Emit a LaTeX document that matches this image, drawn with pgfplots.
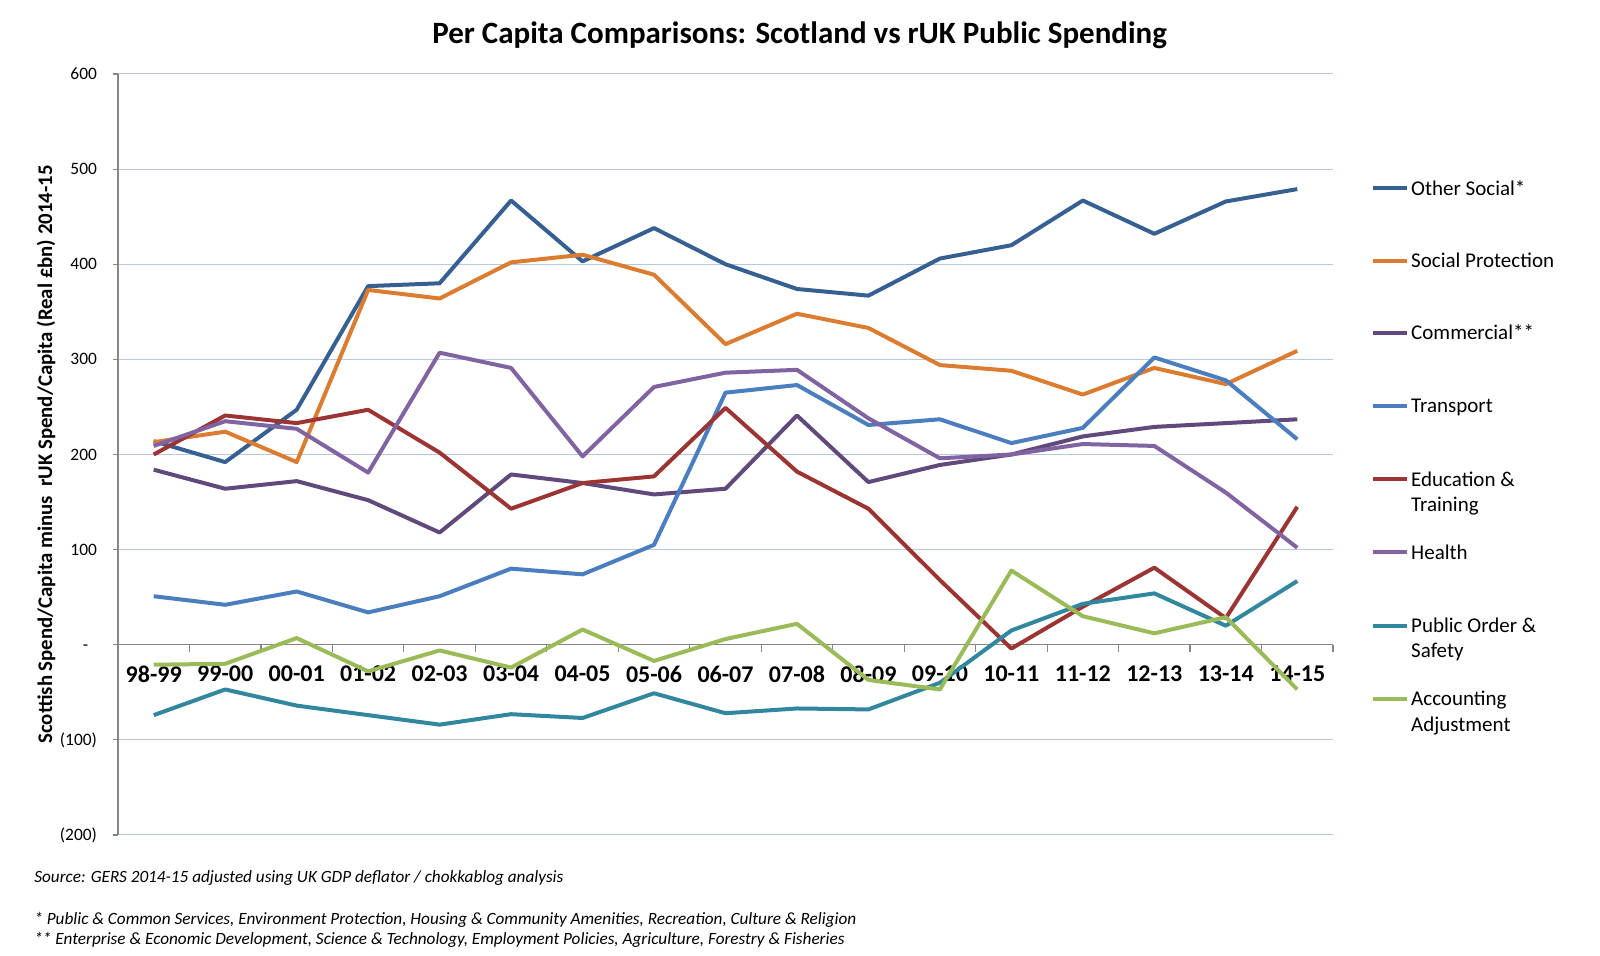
\documentclass[border=0pt]{standalone}
\usepackage{pgfplots}
\pgfplotsset{compat=1.18}
\usepackage{fontspec}
\setmainfont{Carlito}
\definecolor{cOS}{RGB}{55,96,146}
\definecolor{cSP}{RGB}{220,124,48}
\definecolor{cCO}{RGB}{96,74,123}
\definecolor{cTR}{RGB}{74,126,190}
\definecolor{cED}{RGB}{155,52,50}
\definecolor{cHE}{RGB}{128,100,162}
\definecolor{cPO}{RGB}{49,135,158}
\definecolor{cAA}{RGB}{155,187,89}
\definecolor{gridblue}{RGB}{180,199,231}
\definecolor{axisgray}{RGB}{134,134,134}
\newcommand{\LEG}[3]{%
  \draw[#1, line width=2pt] (627.5pt,#2) -- (644.4pt,#2);
  \node[anchor=base west, inner sep=0pt, font=\fontsize{10.5}{12.75}\selectfont] at (646.4pt,#2-3.4pt) {\parbox[t]{100pt}{\raggedright #3}};}
\begin{document}
\begin{tikzpicture}
\begin{axis}[
  at={(0,0)}, anchor=south west,
  scale only axis, width=607.5pt, height=380.5pt,
  xmin=-0.5, xmax=16.5, ymin=-200, ymax=600,
  axis y line=left, axis x line=middle,
  axis line style={-, draw=axisgray, line width=0.6pt},
  hide obscured x ticks=false, hide obscured y ticks=false,
  xtick={0,...,16},
  xticklabels={98-99,99-00,00-01,01-02,02-03,03-04,04-05,05-06,06-07,07-08,08-09,09-10,10-11,11-12,12-13,13-14,14-15},
  minor xtick={-0.5,0.5,...,16.5},
  ytick={-200,-100,...,600},
  yticklabels={(200),(100),-\phantom{0},100,200,300,400,500,600},
  tick align=outside,
  major tick length=2.5pt, minor tick length=3.7pt,
  tick style={draw=axisgray, line width=0.6pt},
  major x tick style={draw=none},
  ymajorgrids, major grid style={draw=gridblue, line width=0.5pt},
  xticklabel style={font=\bfseries\fontsize{12}{14}\selectfont, yshift=-4.5pt},
  yticklabel style={font=\fontsize{8.7}{10}\selectfont, xshift=-4.5pt},
  ylabel={Scottish Spend/Capita minus~ rUK Spend/Capita (Real £bn) 2014-15},
  ylabel style={font=\bfseries\fontsize{10.4}{12}\selectfont, at={(axis description cs:-0.0593,0.5)}, anchor=center},
  title={Per Capita Comparisons: Scotland vs rUK Public Spending},
  title style={font=\bfseries\fontsize{15.5}{18}\selectfont, at={(axis description cs:0.561,1)}, anchor=base, yshift=9.4pt},
  every axis plot/.append style={line width=2pt, line join=round},
]
\addplot[cOS] coordinates {(0,214)(1,192)(2,247)(3,377)(4,380)(5,467)(6,403)(7,438)(8,400)(9,374)(10,367)(11,406)(12,420)(13,467)(14,432)(15,466)(16,479)};
\addplot[cSP] coordinates {(0,213)(1,224)(2,192)(3,373)(4,364)(5,402)(6,410)(7,389)(8,316)(9,348)(10,333)(11,294)(12,288)(13,263)(14,291)(15,274)(16,309)};
\addplot[cCO] coordinates {(0,184)(1,164)(2,172)(3,152)(4,118)(5,179)(6,170)(7,158)(8,164)(9,241)(10,171)(11,189)(12,200)(13,219)(14,229)(15,233)(16,237)};
\addplot[cTR] coordinates {(0,51)(1,42)(2,56)(3,34)(4,51)(5,80)(6,74)(7,105)(8,265)(9,273)(10,231)(11,237)(12,212)(13,228)(14,302)(15,278)(16,216)};
\addplot[cED] coordinates {(0,200)(1,241)(2,233)(3,247)(4,202)(5,143)(6,170)(7,177)(8,249)(9,182)(10,143)(11,68)(12,-4)(13,40)(14,81)(15,28)(16,145)};
\addplot[cHE] coordinates {(0,209)(1,235)(2,227)(3,181)(4,307)(5,291)(6,198)(7,271)(8,286)(9,289)(10,238)(11,196)(12,200)(13,211)(14,209)(15,160)(16,102)};
\addplot[cPO] coordinates {(0,-74)(1,-47)(2,-64)(3,-74)(4,-84)(5,-73)(6,-77)(7,-51)(8,-72)(9,-67)(10,-68)(11,-40)(12,15)(13,43)(14,54)(15,20)(16,67)};
\addplot[cAA] coordinates {(0,-21)(1,-20)(2,7)(3,-28)(4,-6)(5,-24)(6,16)(7,-17)(8,6)(9,22)(10,-37)(11,-47)(12,78)(13,30)(14,12)(15,29)(16,-47)};
\end{axis}
\LEG{cOS}{323.3pt}{Other Social*}
\LEG{cSP}{287.1pt}{Social Protection}
\LEG{cCO}{250.9pt}{Commercial**}
\LEG{cTR}{214.4pt}{Transport}
\LEG{cED}{177.8pt}{Education \&\\Training}
\LEG{cHE}{141.3pt}{Health}
\LEG{cPO}{104.7pt}{Public Order \&\\Safety}
\LEG{cAA}{68.1pt}{Accounting\\Adjustment}
\begin{scope}[every node/.style={anchor=base west, inner sep=0pt, font=\itshape\fontsize{8.6}{10}\selectfont}]
\node at (-42pt,-23.8pt) {Source: GERS 2014-15 adjusted using UK GDP deflator / chokkablog analysis};
\node at (-42pt,-44.7pt) {* Public \& Common Services, Environment Protection, Housing \& Community Amenities, Recreation, Culture \& Religion};
\node at (-42pt,-54.8pt) {** Enterprise \& Economic Development, Science \& Technology, Employment Policies, Agriculture, Forestry \& Fisheries};
\end{scope}
\pgfresetboundingbox
\path[use as bounding box] (-59pt,-60.5pt) rectangle (741pt,417.5pt);
\end{tikzpicture}
\end{document}
